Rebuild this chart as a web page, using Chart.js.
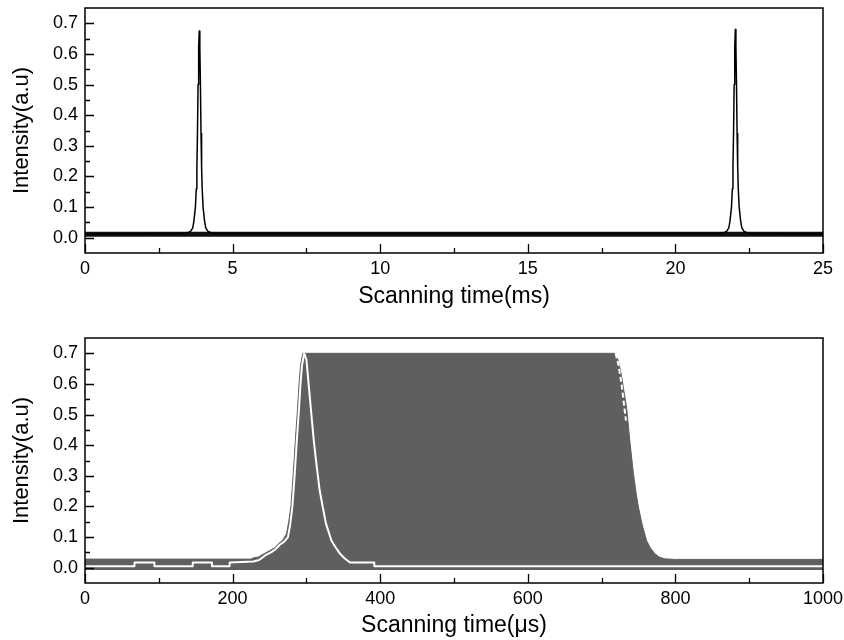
<!DOCTYPE html>
<html>
<head>
<meta charset="utf-8">
<script src="https://cdn.jsdelivr.net/npm/chart.js@4"></script>
<style>
  html, body { margin: 0; padding: 0; background: #fff; }
  #wrap { position: relative; width: 844px; height: 640px; }
  canvas { position: absolute; left: 0; }
  #topChart { top: 0; }
  #bottomChart { top: 320px; }
</style>
</head>
<body>
<div id="wrap">
  <canvas id="topChart" width="844" height="320"></canvas>
  <canvas id="bottomChart" width="844" height="320"></canvas>
</div>
<script>
// --- top panel: scan over 25 ms ---
const topTime = [0, 3.42, 3.57, 3.65, 3.69, 3.74, 3.77, 3.79, 3.81, 3.83, 3.85, 3.87, 3.89, 3.91, 3.93, 3.95, 3.97, 4.0, 4.05, 4.09, 4.17, 4.32,
                 21.58, 21.73, 21.81, 21.85, 21.9, 21.93, 21.95, 21.97, 21.99, 22.01, 22.03, 22.05, 22.07, 22.09, 22.11, 22.13, 22.16, 22.21, 22.25, 22.33, 22.48, 25];
const topIntensity = [0.011, 0.014, 0.02, 0.032, 0.055, 0.1, 0.16, 0.23, 0.34, 0.5, 0.62, 0.675, 0.62, 0.5, 0.34, 0.23, 0.16, 0.1, 0.055, 0.032, 0.02, 0.014,
                      0.014, 0.02, 0.032, 0.055, 0.1, 0.16, 0.23, 0.34, 0.5, 0.62, 0.68, 0.62, 0.5, 0.34, 0.23, 0.16, 0.1, 0.055, 0.032, 0.02, 0.014, 0.011];
// noise band of the baseline
const topBandTime = [0, 25];
const topBandHigh = [0.019, 0.019];
const topBandLow = [0.003, 0.003];

const topTicks = [0, 5, 10, 15, 20, 25];
const topMinorTicks = [2.5, 7.5, 12.5, 17.5, 22.5];

// --- bottom panel: scan over 1000 us ---
// grey envelope of the fast oscillating signal
const envTime = [0, 225, 228, 235, 242, 250, 257, 263, 268, 273, 276, 279, 282, 285, 288, 290, 292, 295,
                 718, 722, 726, 730, 734, 738, 743, 747, 750, 755, 761, 766, 772, 778, 785, 800, 1000];
const envHigh = [0.028, 0.028, 0.032, 0.035, 0.045, 0.055, 0.065, 0.08, 0.09, 0.11, 0.15, 0.2, 0.3, 0.415, 0.52, 0.6, 0.66, 0.7,
                 0.7, 0.68, 0.64, 0.58, 0.52, 0.42, 0.31, 0.24, 0.197, 0.14, 0.088, 0.065, 0.046, 0.035, 0.029, 0.027, 0.027];
const envLowTime = [0, 1000];
const envLow = [-0.006, -0.006];

// white single sweep trace
const sweepTime = [0, 67, 67, 94, 94, 146, 146, 172, 172, 196, 196, 228, 236, 244, 252, 258, 264, 270, 275, 278, 281, 284, 287, 290, 292, 294, 297,
                   300, 303, 306, 310, 314, 318, 322, 326.5, 334, 340, 345.5, 352, 359, 392, 392, 1000];
const sweepIntensity = [0.005, 0.005, 0.017, 0.017, 0.005, 0.005, 0.017, 0.017, 0.005, 0.005, 0.017, 0.02, 0.025, 0.04, 0.05, 0.06, 0.075, 0.085, 0.1, 0.14, 0.2, 0.3, 0.415, 0.52, 0.6, 0.66, 0.7,
                        0.68, 0.6, 0.52, 0.415, 0.33, 0.252, 0.2, 0.144, 0.088, 0.065, 0.046, 0.03, 0.017, 0.017, 0.005, 0.005];
// short white stroke on the falling edge
const edgeTime = [719, 723, 727, 730, 733];
const edgeIntensity = [0.7, 0.66, 0.6, 0.54, 0.48];

const bottomTicks = [0, 200, 400, 600, 800, 1000];
const bottomMinorTicks = [100, 300, 500, 700, 900];

const yTicks = [0, 0.1, 0.2, 0.3, 0.4, 0.5, 0.6, 0.7];
const yMinorTicks = [0.05, 0.15, 0.25, 0.35, 0.45, 0.55, 0.65];

function pts(xs, ys) {
    return xs.map((x, i) => ({ x: x, y: ys[i] }));
}

const FONT = '"Liberation Sans", Arial, sans-serif';

// frame + inward ticks, like the original plotting software
const frameTicks = {
    id: 'frameTicks',
    afterDatasetsDraw(chart, args, opts) {
        const ctx = chart.ctx;
        const a = chart.chartArea;
        const xs = chart.scales.x, ys = chart.scales.y;
        ctx.save();
        ctx.strokeStyle = '#000';
        ctx.lineWidth = 1.5;
        ctx.strokeRect(a.left, a.top, a.right - a.left, a.bottom - a.top);
        ctx.lineWidth = 1.3;
        ctx.beginPath();
        opts.xMajor.forEach(v => {
            const p = Math.round(xs.getPixelForValue(v)) + 0.5;
            ctx.moveTo(p, a.bottom); ctx.lineTo(p, a.bottom - 9);
        });
        opts.xMinor.forEach(v => {
            const p = Math.round(xs.getPixelForValue(v)) + 0.5;
            ctx.moveTo(p, a.bottom); ctx.lineTo(p, a.bottom - 5);
        });
        yTicks.forEach(v => {
            const p = Math.round(ys.getPixelForValue(v)) + 0.5;
            ctx.moveTo(a.left, p); ctx.lineTo(a.left + 9, p);
        });
        yMinorTicks.forEach(v => {
            const p = Math.round(ys.getPixelForValue(v)) + 0.5;
            ctx.moveTo(a.left, p); ctx.lineTo(a.left + 5, p);
        });
        ctx.stroke();
        ctx.restore();
    }
};

function makeOptions(xMin, xMax, xTickVals, xMinor, xTitle, padTop, xAxisHeight, titlePadBottom) {
    return {
        responsive: false,
        animation: false,
        devicePixelRatio: 1,
        layout: { padding: { top: padTop, right: 21, left: 0, bottom: 0 } },
        plugins: {
            legend: { display: false },
            tooltip: { enabled: false },
            frameTicks: { xMajor: xTickVals, xMinor: xMinor }
        },
        elements: {
            point: { radius: 0 },
            line: { tension: 0, borderJoinStyle: 'round' }
        },
        scales: {
            x: {
                type: 'linear',
                min: xMin,
                max: xMax,
                afterBuildTicks: function(scale) {
                    scale.ticks = xTickVals.map(v => ({ value: v }));
                },
                afterFit: function(scale) {
                    scale.height = xAxisHeight;
                    scale.paddingLeft = 0;
                    scale.paddingRight = 0;
                },
                grid: { display: false, drawTicks: false },
                border: { display: false },
                ticks: {
                    padding: 5,
                    color: '#000',
                    maxRotation: 0,
                    font: { family: FONT, size: 18 },
                    callback: v => String(v)
                },
                title: {
                    display: true,
                    text: xTitle,
                    color: '#000',
                    font: { family: FONT, size: 23 },
                    padding: { top: 0, bottom: titlePadBottom }
                }
            },
            y: {
                min: -0.05,
                max: 0.75,
                afterBuildTicks: function(scale) {
                    scale.ticks = yTicks.map(v => ({ value: v }));
                },
                afterFit: function(scale) {
                    scale.width = 85;
                    scale.paddingTop = 0;
                    scale.paddingBottom = 0;
                },
                grid: { display: false, drawTicks: false },
                border: { display: false },
                ticks: {
                    padding: 7,
                    color: '#000',
                    font: { family: FONT, size: 18 },
                    callback: v => v.toFixed(1)
                },
                title: {
                    display: true,
                    text: 'Intensity(a.u)',
                    color: '#000',
                    font: { family: FONT, size: 22 },
                    padding: { top: 9, bottom: 0 }
                }
            }
        }
    };
}

new Chart(document.getElementById('topChart'), {
    type: 'line',
    data: {
        datasets: [
            {
                data: pts(topTime, topIntensity),
                borderColor: '#000',
                borderWidth: 1.5,
                fill: false
            },
            {
                data: pts(topBandTime, topBandHigh),
                borderColor: '#111',
                borderWidth: 0,
                backgroundColor: '#111',
                fill: '+1'
            },
            {
                data: pts(topBandTime, topBandLow),
                borderColor: '#111',
                borderWidth: 0,
                fill: false
            }
        ]
    },
    options: makeOptions(0, 25, topTicks, topMinorTicks, 'Scanning time(ms)', 8, 67, 10),
    plugins: [frameTicks]
});

new Chart(document.getElementById('bottomChart'), {
    type: 'line',
    data: {
        datasets: [
            {
                data: pts(edgeTime, edgeIntensity),
                borderColor: '#fff',
                borderWidth: 2,
                borderDash: [5, 3],
                fill: false
            },
            {
                data: pts(sweepTime, sweepIntensity),
                borderColor: '#fff',
                borderWidth: 2,
                fill: false
            },
            {
                data: pts(envTime, envHigh),
                borderColor: '#5f5f5f',
                borderWidth: 1,
                backgroundColor: '#5f5f5f',
                fill: '+1'
            },
            {
                data: pts(envLowTime, envLow),
                borderColor: '#5f5f5f',
                borderWidth: 1,
                fill: false
            }
        ]
    },
    options: makeOptions(0, 1000, bottomTicks, bottomMinorTicks, 'Scanning time(\u03bcs)', 18, 57, 1),
    plugins: [frameTicks]
});
</script>
</body>
</html>
